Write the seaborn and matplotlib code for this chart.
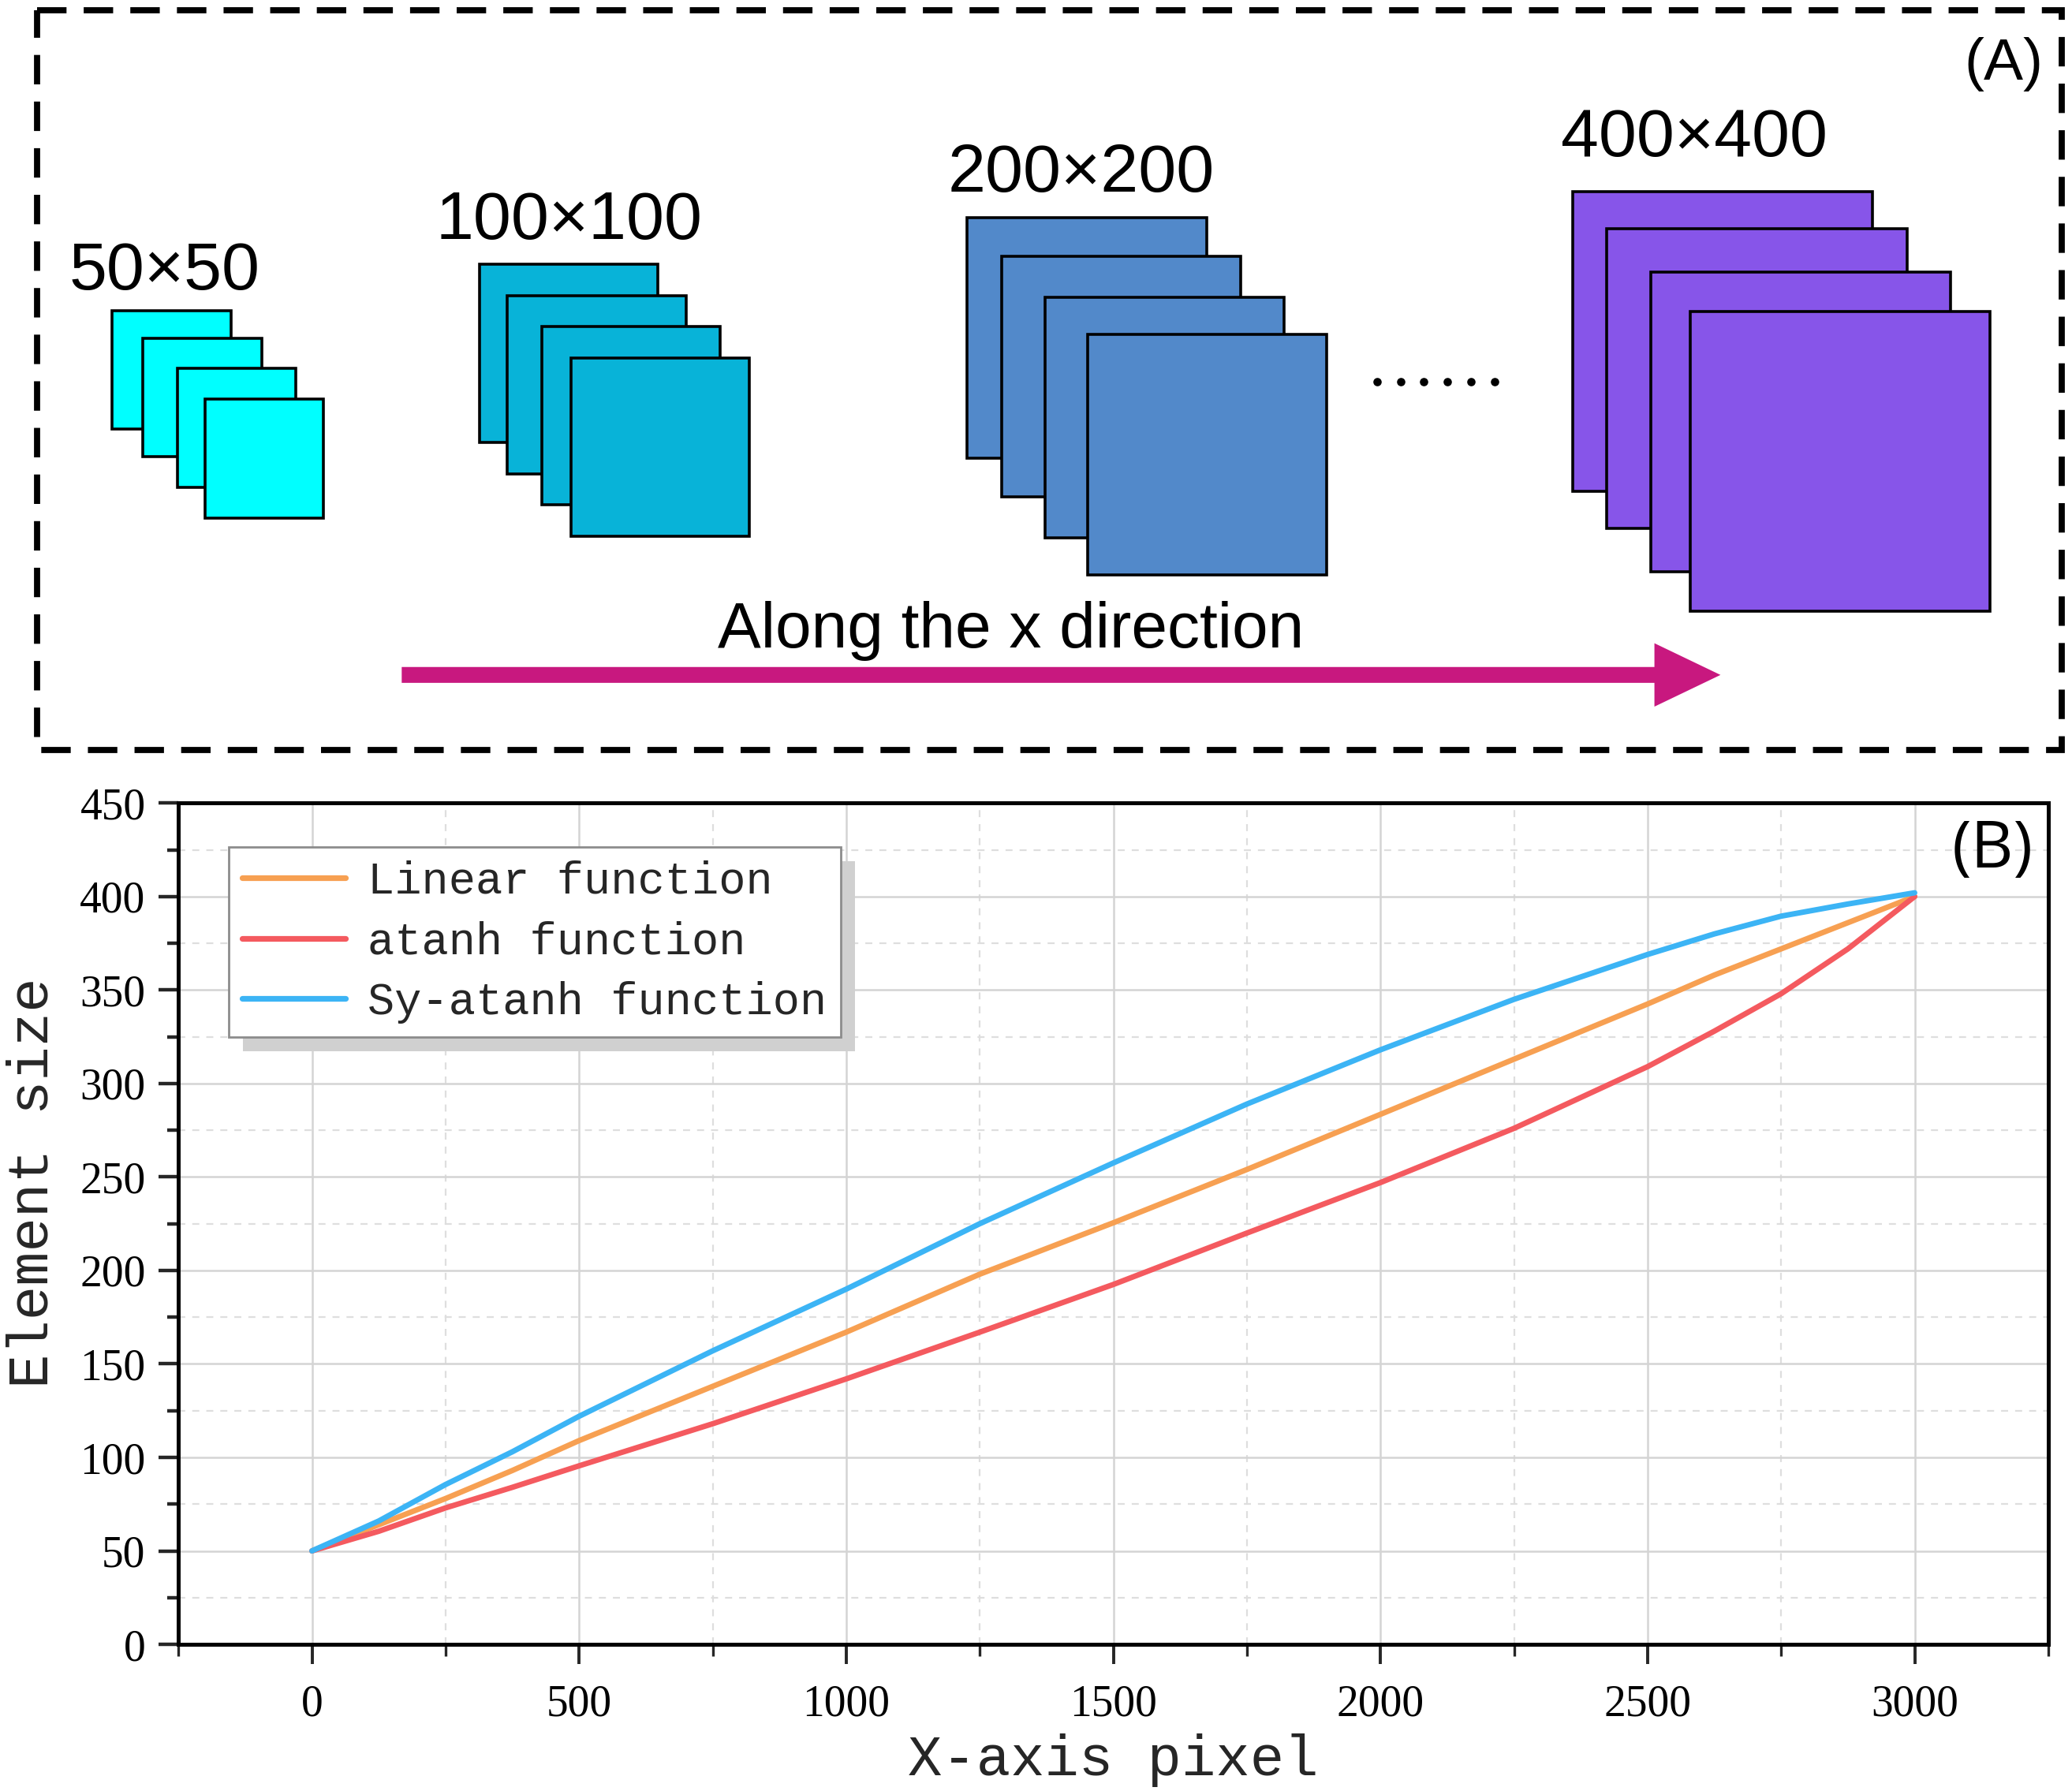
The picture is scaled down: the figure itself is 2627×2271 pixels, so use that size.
import numpy as np
import pandas as pd
import seaborn as sns
import matplotlib.pyplot as plt
from matplotlib.patches import Rectangle

# ---- panel B data ----
x_pixel = [0, 125, 250, 375, 500, 750, 1000, 1250, 1500, 1750, 2000, 2250, 2500, 2625, 2750, 2875, 3000]
linear_fn = [50, 64, 78, 93, 109, 138, 167, 198, 225.5, 254, 283.5, 313, 342.5, 358, 372, 386, 400]
atanh_fn = [50, 60.5, 73, 84, 95.5, 118, 142, 167, 192.5, 220, 247, 276, 309, 328, 348, 372, 400]
sy_atanh_fn = [50, 66, 85.5, 103, 122, 157, 190, 225, 257.5, 289, 318, 345, 369, 380, 389.5, 396, 402]
series_names = ["Linear function", "atanh function", "Sy-atanh function"]
series_colors = ["#F7A052", "#F45A5F", "#3CB4F5"]

x_major = [0, 500, 1000, 1500, 2000, 2500, 3000]
x_minor = [-250, 250, 750, 1250, 1750, 2250, 2750, 3250]
y_major = [0, 50, 100, 150, 200, 250, 300, 350, 400, 450]
y_minor = [25, 75, 125, 175, 225, 275, 325, 375, 425]

# ---- panel A content ----
block_labels = ["50×50", "100×100", "200×200", "400×400"]
block_colors = ["#00FFFF", "#08B3D8", "#5289CA", "#8755E9"]
arrow_label = "Along the x direction"

# layout of panel A in reference-frame units (1568 x 580, y down)
block_size = [(90, 90), (135, 135), (181, 182), (227, 227)]
block_corners = [
    [(85, 235), (108, 256), (134, 279), (155, 302)],
    [(363, 200), (384, 224), (410, 247), (432, 271)],
    [(732, 165), (758, 194), (791, 225), (823, 253)],
    [(1190, 145), (1216, 173), (1249, 206), (1279, 236)],
]
label_pos = [(52, 219), (330, 181), (717, 145), (1181, 118)]

sns.set_style("white")
plt.rcParams["font.family"] = ["Liberation Sans", "DejaVu Sans"]

fig = plt.figure(figsize=(13.135, 11.355), dpi=200)

# ---------------- panel A ----------------
axA = fig.add_axes([0, 1 - 580 / 1356, 1, 580 / 1356])
axA.set_xlim(0, 1568)
axA.set_ylim(580, 0)
axA.axis("off")

axA.add_patch(Rectangle((28, 8), 1532, 560, fill=False, edgecolor="black",
                        lw=2.8, ls=(0, (4.8, 2.8))))

for lab, col, (w, h), corners, (lx, ly) in zip(block_labels, block_colors, block_size,
                                               block_corners, label_pos):
    for (cx, cy) in corners:
        axA.add_patch(Rectangle((cx, cy), w, h, facecolor=col, edgecolor="black", lw=1.3))
    axA.text(lx, ly, lab, fontsize=31, ha="left", va="baseline", color="black")

axA.plot(np.linspace(1042, 1131, 6), [289] * 6, "o", color="black", ms=2.8)

axA.arrow(304, 511, 998, 0, width=12, head_width=48, head_length=50,
          length_includes_head=True, color="#C8187F", lw=0)
axA.text(765, 490, arrow_label, fontsize=29.5, ha="center", va="baseline", color="black")
axA.text(1546, 28, "(A)", fontsize=27, ha="right", va="top", color="black")

# ---------------- panel B ----------------
ax = fig.add_axes([135 / 1568, 1 - 1245 / 1356, 1415 / 1568, 637 / 1356])

df = pd.DataFrame({
    "x": x_pixel * 3,
    "size": linear_fn + atanh_fn + sy_atanh_fn,
    "func": [series_names[0]] * len(x_pixel) + [series_names[1]] * len(x_pixel)
            + [series_names[2]] * len(x_pixel),
})
sns.lineplot(data=df, x="x", y="size", hue="func", palette=dict(zip(series_names, series_colors)),
             linewidth=2.5, sort=False, ax=ax, zorder=3)

ax.set_xlim(-250, 3250)
ax.set_ylim(0, 450)
ax.set_xticks(x_major)
ax.set_xticks(x_minor, minor=True)
ax.set_yticks(y_major)
ax.set_yticks(y_minor, minor=True)
ax.set_axisbelow(True)
ax.grid(which="major", color="#d4d4d4", lw=0.9, ls="-")
ax.grid(which="minor", color="#dedede", lw=0.8, ls=(0, (4, 4)))

for s in ax.spines.values():
    s.set_visible(True)
    s.set_color("black")
    s.set_linewidth(1.8)

ax.tick_params(axis="x", which="major", bottom=True, direction="out", length=9, width=1.4, pad=9)
ax.tick_params(axis="x", which="minor", bottom=True, direction="out", length=5.5, width=1.2)
ax.tick_params(axis="y", which="major", left=True, direction="out", length=9, width=1.6, pad=6)
ax.tick_params(axis="y", which="minor", left=True, direction="out", length=5, width=1.6)
for t in ax.get_xticklabels() + ax.get_yticklabels():
    t.set_family(["Liberation Serif", "DejaVu Serif"])
    t.set_fontsize(20)
    t.set_color("black")

ax.set_xlabel("X-axis pixel", fontsize=26, family=["Liberation Mono", "DejaVu Sans Mono"],
              va="top")
ax.xaxis.set_label_coords(0.5, -0.106)
ax.set_ylabel("Element size", fontsize=26, family=["Liberation Mono", "DejaVu Sans Mono"],
              va="center")
ax.yaxis.set_label_coords(-0.078, 0.549)

ax.text(0.992, 0.982, "(B)", transform=ax.transAxes, fontsize=30, ha="right", va="top",
        family=["Open Sans", "DejaVu Sans"], weight="medium", color="black")

handles, labels = ax.get_legend_handles_labels()
leg = ax.legend(handles, labels, loc="upper left", bbox_to_anchor=(0.0269, 0.948),
                borderaxespad=0, fancybox=False, framealpha=1, edgecolor="#8c8c8c",
                prop={"family": ["Liberation Mono", "DejaVu Sans Mono"], "size": 20.5},
                handlelength=2.3, handletextpad=0.5, labelspacing=0.4, borderpad=0.3)
leg.get_frame().set_linewidth(1.0)
for ln in leg.get_lines():
    ln.set_linewidth(2.6)
leg.set_zorder(6)

fig.canvas.draw()
bb = leg.get_frame().get_window_extent().transformed(ax.transAxes.inverted())
axw = ax.get_window_extent().width
axh = ax.get_window_extent().height
ax.add_patch(Rectangle((bb.x0 + 18 / axw, bb.y0 - 18 / axh), bb.width, bb.height,
                       transform=ax.transAxes, facecolor="#d0d0d0", edgecolor="none",
                       zorder=5, clip_on=False))

fig.savefig("out.png", dpi=200)
